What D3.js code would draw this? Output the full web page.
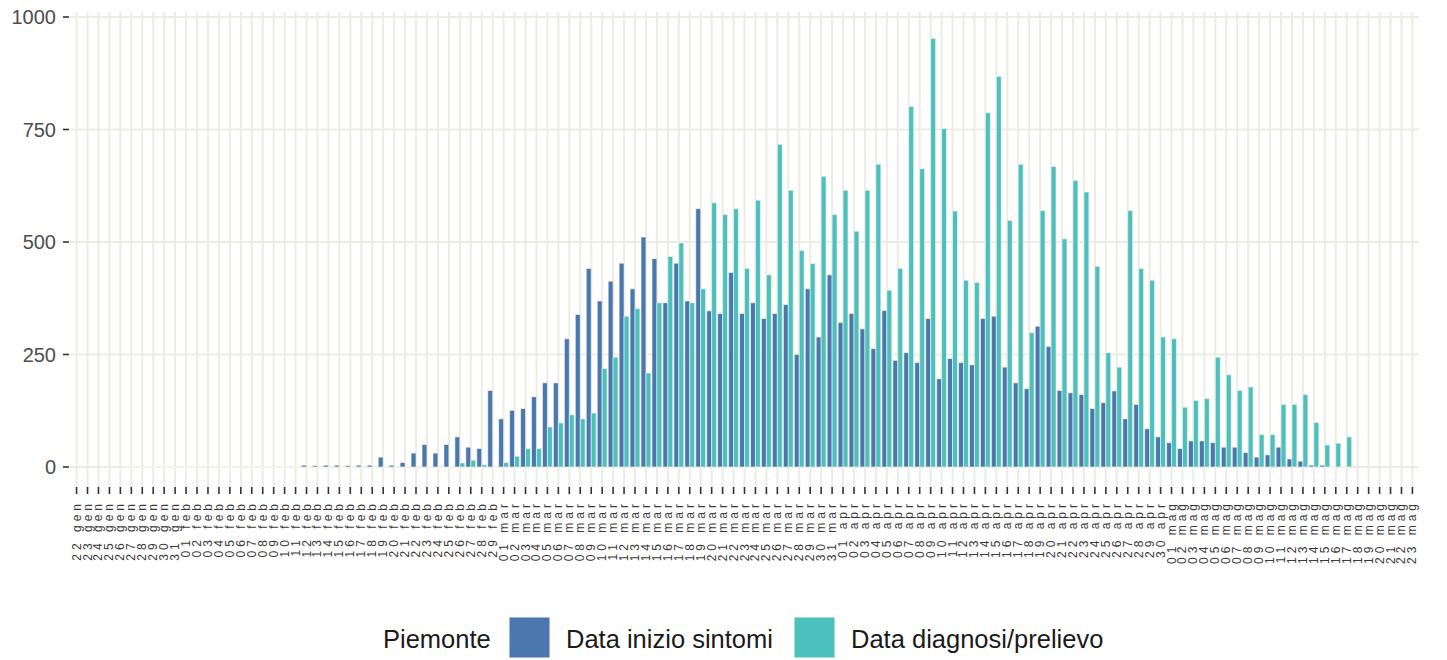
<!DOCTYPE html>
<html>
<head>
<meta charset="utf-8">
<script src="https://cdn.jsdelivr.net/npm/d3@7"></script>
<style>
  body { margin: 0; background: #ffffff; }
  svg { display: block; font-family: "Liberation Sans", Arial, sans-serif; }
</style>
</head>
<body>
<svg id="chart" width="1447" height="660"></svg>
<script>
// days shown on the x axis (one category per day)
var firstDay = "2020-01-22",
    lastDay = "2020-05-23";
var monthNames = ["gen", "feb", "mar", "apr", "mag", "giu", "lug", "ago", "set", "ott", "nov", "dic"];

var seriesNames = ["Data inizio sintomi", "Data diagnosi/prelievo"];
var seriesColours = ["#4a78ae", "#4dbfbf"];
var legendTitle = "Piemonte";
var yTicks = [0, 250, 500, 750, 1000];

// cases by date of symptom onset
var sintomi = [
    null, null, null, null, null,
    0, 0, 0, 0, 0, 0, 0, 0, 0, 0, 0, 0, 0, 0, 0, 0,
    4, 3, 4, 4, 3, 4, 4,
    22,
    4, 10, 31, 50, 31, 50, 67, 44, 41,
    170, 107, 126, 130, 156, 187, 187, 285, 339, 441,
    369, 413, 453, 396, 511, 463, 365, 453, 369, 574,
    347, 341, 432, 341, 365, 330, 341, 361, 250, 396,
    289, 427, 321, 341, 307, 263, 348, 237, 254, 232,
    330, 196, 241, 232, 227, 330, 335, 222, 187, 174,
    313, 268, 170, 165, 161, 130, 143, 169, 107, 139,
    85, 67, 54, 41, 58, 58, 54, 44, 44, 32,
    22, 27, 44, 18, 13, 4, 4, 0, 0,
    null, null, null, null, null, null
];

// cases by date of diagnosis / swab
var diagnosi = [
    null, null, null, null, null,
    0, 0, 0, 0, 0, 0, 0, 0, 0, 0, 0, 0, 0, 0, 0,
    0, 0, 0, 0, 0, 0, 0, 0, 0, 0, 0, 0, 0, 0, 0,
    9, 15, 5,
    0, 10, 24, 41, 41, 89, 98, 116, 107, 120,
    219, 244, 335, 352, 209, 365, 468, 498, 365, 396,
    587, 561, 574, 441, 593, 427, 717, 615, 481, 452,
    646, 561, 615, 524, 615, 673, 393, 441, 801, 663,
    952, 752, 569, 415, 410, 787, 868, 548, 673, 299,
    570, 668, 507, 637, 611, 446, 254, 222, 570, 441,
    415, 289, 285, 133, 148, 152, 244, 205, 170, 178,
    72, 72, 139, 139, 161, 99, 49, 53, 67,
    null, null, null, null, null, null
];

(function () {
    'use strict';

    var parse = d3.timeParse("%Y-%m-%d");
    var days = d3.timeDay.range(parse(firstDay), d3.timeDay.offset(parse(lastDay), 1));
    var keys = days.map(function (d, i) { return i; });
    var label = function (i) {
        var d = days[i];
        return d3.timeFormat("%d")(d) + " " + monthNames[d.getMonth()];
    };

    var panel = { left: 70, right: 1419, top: 12, bottom: 488 },
        grid = "#ecece5";

    var x = d3.scalePoint()
        .domain(keys)
        .range([panel.left, panel.right])
        .padding(0.6);
    var step = x.step();
    var xs = d3.scaleBand()
        .domain([0, 1])
        .range([-0.45 * step, 0.45 * step]);
    var y = d3.scaleLinear()
        .domain([0, 1000])
        .range([467, 17]);

    var svg = d3.select("#chart");

    // grid
    svg.append("g").selectAll("line.v")
        .data(keys)
        .enter()
        .append("line")
        .attr("x1", function (d) { return x(d); })
        .attr("x2", function (d) { return x(d); })
        .attr("y1", panel.top)
        .attr("y2", panel.bottom)
        .attr("stroke", grid)
        .attr("stroke-width", 2);

    svg.append("g").selectAll("line.h")
        .data(yTicks)
        .enter()
        .append("line")
        .attr("x1", panel.left)
        .attr("x2", panel.right)
        .attr("y1", function (d) { return y(d); })
        .attr("y2", function (d) { return y(d); })
        .attr("stroke", grid)
        .attr("stroke-width", 2);

    // bars, dodged inside each day
    var bars = [];
    [sintomi, diagnosi].forEach(function (values, s) {
        values.forEach(function (v, i) {
            if (v !== null) bars.push({ i: i, s: s, v: v });
        });
    });

    svg.append("g").selectAll("path")
        .data(bars)
        .enter()
        .append("path")
        .attr("d", function (d) {
            var x0 = x(d.i) + xs(d.s),
                w = xs.bandwidth(),
                y0 = y(0),
                y1 = y(d.v);
            return "M" + x0 + "," + y0 + "V" + y1 + "H" + (x0 + w) + "V" + y0 + "Z";
        })
        .attr("fill", function (d) { return seriesColours[d.s]; })
        .attr("stroke", "#fbfbe8")
        .attr("stroke-width", 0.6);

    // y axis
    var yAxis = svg.append("g");
    yAxis.selectAll("line")
        .data(yTicks)
        .enter()
        .append("line")
        .attr("x1", 63)
        .attr("x2", 69)
        .attr("y1", function (d) { return y(d); })
        .attr("y2", function (d) { return y(d); })
        .attr("stroke", "#333333")
        .attr("stroke-width", 1.6);
    yAxis.selectAll("text")
        .data(yTicks)
        .enter()
        .append("text")
        .attr("x", 56)
        .attr("y", function (d) { return y(d); })
        .attr("dy", "0.36em")
        .attr("text-anchor", "end")
        .attr("font-size", 20)
        .attr("fill", "#4d4d4d")
        .text(function (d) { return d; });

    // x axis
    var xAxis = svg.append("g");
    xAxis.selectAll("line")
        .data(keys)
        .enter()
        .append("line")
        .attr("x1", function (d) { return x(d); })
        .attr("x2", function (d) { return x(d); })
        .attr("y1", 487)
        .attr("y2", 494)
        .attr("stroke", "#333333")
        .attr("stroke-width", 1.6);
    xAxis.selectAll("text")
        .data(keys)
        .enter()
        .append("text")
        .attr("transform", function (d) { return "translate(" + (x(d) + 4) + ",500) rotate(-90)"; })
        .attr("text-anchor", "end")
        .attr("font-size", 12)
        .attr("letter-spacing", 4)
        .attr("fill", "#3a3a3a")
        .text(label);

    // legend
    var legend = svg.append("g");
    legend.append("text")
        .attr("x", 383)
        .attr("y", 648)
        .attr("font-size", 25.5)
        .attr("fill", "#1a1a1a")
        .text(legendTitle);

    var keyX = [509, 794],
        textX = [566, 851];
    seriesNames.forEach(function (name, s) {
        legend.append("rect")
            .attr("x", keyX[s])
            .attr("y", 617)
            .attr("width", 41)
            .attr("height", 41)
            .attr("fill", seriesColours[s])
            .attr("stroke", "#fbfbe8")
            .attr("stroke-width", 1);
        legend.append("text")
            .attr("x", textX[s])
            .attr("y", 648)
            .attr("font-size", 25.5)
            .attr("fill", "#1a1a1a")
            .text(name);
    });
})();
</script>
</body>
</html>
